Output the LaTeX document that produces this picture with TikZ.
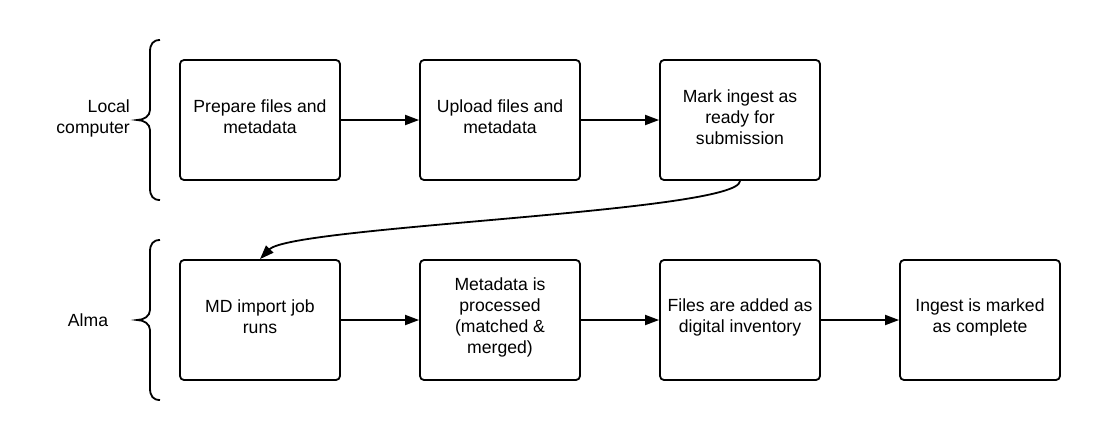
\documentclass[tikz,border=0pt]{standalone}
\usepackage{fontspec}
\setmainfont{Liberation Sans}
\usetikzlibrary{arrows.meta}
\begin{document}
\begin{tikzpicture}[x=1pt,y=-1pt,
  stepbox/.style={draw,line width=1.8pt,rounded corners=4pt,minimum width=160pt,minimum height=120pt,inner sep=0pt},
  txt/.style={align=center,inner sep=0pt,yshift=3pt,font=\fontsize{17.6pt}{21pt}\selectfont},
  lbl/.style={font=\fontsize{17.6pt}{21pt}\selectfont,inner sep=0pt},
  conn/.style={line width=1.8pt,-{Triangle[length=14pt,width=10pt]}},
  bracepath/.style={line width=1.8pt}]
\useasboundingbox (0,0) rectangle (1100,440);
\node[stepbox,label={[txt]center:Prepare files and\\metadata}] (p1) at (260,120) {};
\node[stepbox,label={[txt]center:Upload files and\\metadata}] (p2) at (500,120) {};
\node[stepbox,label={[txt]center:Mark ingest as\\ready for\\submission}] (p3) at (740,120) {};
\node[stepbox,label={[txt]center:MD import job\\runs}] (a1) at (260,320) {};
\node[stepbox,label={[txt]center:Metadata is\\processed\\(matched \&\\merged)}] (a2) at (500,320) {};
\node[stepbox,label={[txt]center:Files are added as\\digital inventory}] (a3) at (740,320) {};
\node[stepbox,label={[txt]center:Ingest is marked\\as complete}] (a4) at (980,320) {};
\node[lbl,align=right,anchor=east] (lc) at (130,118) {Local\\computer};
\node[lbl] (alma) at (88,320) {Alma};
\draw[conn] (p1) -- (p2);
\draw[conn] (p2) -- (p3);
\draw[conn] (a1) -- (a2);
\draw[conn] (a2) -- (a3);
\draw[conn] (a3) -- (a4);
\draw[conn] (p3.south) .. controls (740,212) and (292,226) .. (a1.north);
\foreach \dy in {0,200}{
\draw[bracepath] (160,40+\dy) .. controls (153,40+\dy) and (150,44+\dy) .. (150,52+\dy) -- (150,110+\dy)
  .. controls (150,116+\dy) and (144,120+\dy) .. (137,120+\dy)
  .. controls (144,120+\dy) and (150,124+\dy) .. (150,130+\dy) -- (150,188+\dy)
  .. controls (150,196+\dy) and (153,200+\dy) .. (160,200+\dy);
}
\end{tikzpicture}
\end{document}
